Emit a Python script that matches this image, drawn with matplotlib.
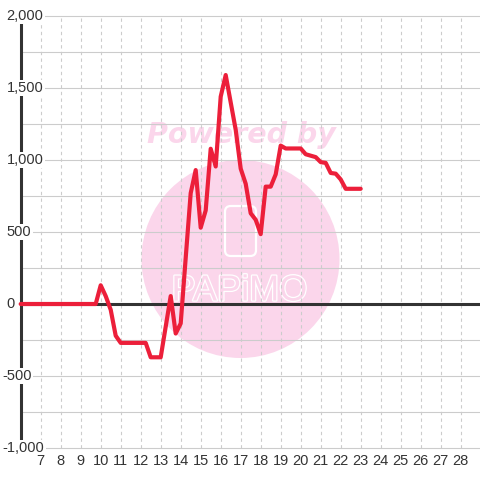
#!/usr/bin/env python3

import matplotlib
matplotlib.use('Agg')
import matplotlib.pyplot as plt
import matplotlib.patheffects as pe
from matplotlib.patches import Circle, FancyBboxPatch
from matplotlib.transforms import blended_transform_factory

# breakpoints of the red line (hour of day, value)
hours = [6, 9.75, 10, 10.25, 10.5, 10.75, 11, 12.25, 12.5, 13, 13.5, 13.75, 14,
         14.25, 14.5, 14.75, 15, 15.25, 15.5, 15.75, 16, 16.25, 16.5, 16.75, 17,
         17.25, 17.5, 17.75, 18, 18.25, 18.5, 18.75, 19, 19.25, 20, 20.25, 20.5,
         20.75, 21, 21.25, 21.5, 21.75, 22, 22.25, 23]
values = [0, 0, 130, 55, -40, -220, -270, -270, -370, -370, 55, -205, -135,
          320, 770, 930, 530, 650, 1078, 955, 1440, 1590, 1400, 1210, 940,
          835, 630, 585, 485, 815, 815, 900, 1100, 1080, 1080, 1040, 1030,
          1020, 985, 980, 910, 905, 865, 800, 800]

x_ticks = list(range(7, 29))
y_ticks = [-1000, -500, 0, 500, 1000, 1500, 2000]
y_grid = [-1000, -750, -500, -250, 250, 500, 750, 1000, 1250, 1500, 1750, 2000]
y_labels = ['-1,000', '-500', '0', '500', '1,000', '1,500', '2,000']

TEXT = '#333333'
RED = '#ec1f3a'
PINK = '#fbd6eb'


def main():
    fig = plt.figure(figsize=(4.8, 4.8), dpi=100)
    ax = fig.add_axes([0, 0, 1, 1])
    ax.set_xlim(4.965, 28.965)
    ax.set_ylim(-1222.2, 2111.1)
    ax.axis('off')

    # watermark
    ax.add_patch(Circle((240.5 / 480, 1 - 259 / 480), 99 / 480,
                        transform=ax.transAxes, facecolor=PINK,
                        edgecolor='none', zorder=0))
    ax.add_patch(FancyBboxPatch((225 / 480, 1 - 256 / 480), 31 / 480, 50 / 480,
                                boxstyle='round,pad=0,rounding_size=0.012',
                                transform=ax.transAxes, facecolor='none',
                                edgecolor='white', linewidth=1.6, zorder=0.5))
    ax.text(239.5 / 480, 1 - 291 / 480, 'PAPiMO', transform=ax.transAxes,
            ha='center', va='center', fontsize=26, family='Liberation Sans',
            color=PINK, zorder=0.5,
            path_effects=[pe.withStroke(linewidth=1.8, foreground='white')])
    ax.text(241.5 / 480, 1 - 135 / 480, 'Powered by', transform=ax.transAxes,
            ha='center', va='center', fontsize=20.5, family='DejaVu Sans',
            fontweight='bold', fontstyle='italic', color=PINK, zorder=0.5)

    # grid
    for v in y_grid:
        ax.plot([6, 30], [v, v], color='#cccccc', lw=0.8, zorder=1)
    for t in x_ticks:
        ax.plot([t, t], [-1000, 2000], color='#cccccc', lw=0.8,
                ls=(0, (3, 3)), zorder=1)

    # axes lines
    ax.plot([6, 6], [-1000, 2000], color=TEXT, lw=2.2, zorder=2)
    ax.plot([6, 30], [0, 0], color=TEXT, lw=2.2, zorder=2,
            solid_capstyle='round')

    ax.plot(hours, values, color=RED, lw=3.0, zorder=3,
            solid_capstyle='round', solid_joinstyle='round')

    # tick labels
    ytr = blended_transform_factory(ax.transAxes, ax.transData)
    for v, lab in zip(y_ticks, y_labels):
        x0 = 2.5 if v < 0 else 6.5
        ax.text(x0 / 480, v, lab, transform=ytr, ha='left', va='center',
                fontsize=10.5, family='Liberation Sans', color=TEXT, zorder=4,
                bbox=dict(facecolor='white', edgecolor='none', pad=1))
    xtr = blended_transform_factory(ax.transData, ax.transAxes)
    for t in x_ticks:
        ax.text(t, 1 - 461 / 480, str(t), transform=xtr, ha='center',
                va='center', fontsize=10.5, family='Liberation Sans',
                color=TEXT, zorder=4)

    fig.savefig('out.png', dpi=100)


if __name__ == '__main__':
    main()
